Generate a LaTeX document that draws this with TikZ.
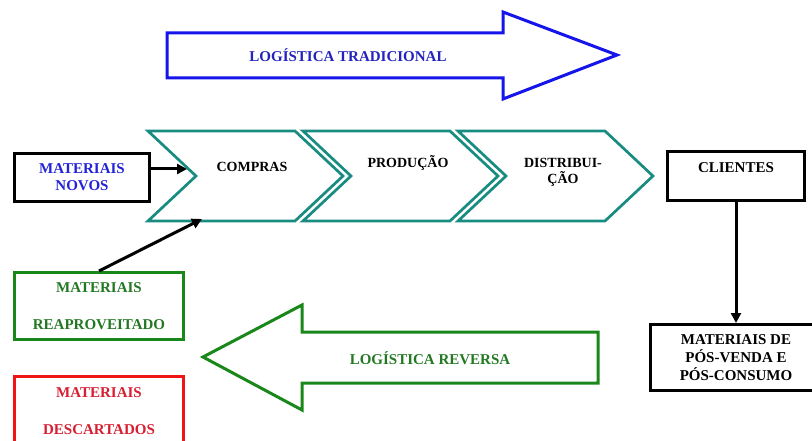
\documentclass[tikz,border=0pt]{standalone}
\usepackage{fontspec}
\setmainfont{Liberation Serif}
\usepackage{xcolor}
\usepackage{tikz}
\usetikzlibrary{arrows.meta}

\definecolor{tradblue}{RGB}{20,20,235}
\definecolor{tradtext}{RGB}{35,35,190}
\definecolor{novostext}{RGB}{35,35,215}
\definecolor{revgreen}{RGB}{25,135,25}
\definecolor{revtext}{RGB}{35,120,35}
\definecolor{chevteal}{RGB}{25,140,130}
\definecolor{descred}{RGB}{240,20,20}
\definecolor{desctext}{RGB}{215,30,50}

\begin{document}
\begin{tikzpicture}[x=1pt, y=-1pt, line join=miter,
    lbl/.style={font=\fontsize{15}{17}\selectfont\bfseries, align=center, inner sep=0pt},
    steplbl/.style={font=\fontsize{14}{16}\selectfont\bfseries, align=center, inner sep=0pt},
    box/.style={draw, line width=3pt, lbl},
    flow/.style={line width=3pt, -{Triangle[length=10pt,width=10pt]}}]

    \useasboundingbox (0,0) rectangle (812,441);
    \clip (0,0) rectangle (812,441);

    % logistica tradicional
    \draw[tradblue, line width=3pt] (167,33) -- (503,33) -- (503,12) -- (617,55)
        -- (503,99) -- (503,78) -- (167,78) -- cycle;
    \node[lbl, text=tradtext] (tradicional) at (348,55) {LOGÍSTICA TRADICIONAL};

    % cadeia
    \foreach \s in {148, 303, 458}
        \draw[chevteal, line width=2.7pt] (\s,131) -- ++(147,0) -- ++(48,45) -- ++(-48,45)
            -- ++(-147,0) -- ++(48,-45) -- cycle;
    \node[steplbl] (compras) at (252,167) {COMPRAS};
    \node[steplbl] (producao) at (408,163) {PRODUÇÃO};
    \node[steplbl] (distribuicao) at (563,172) {DISTRIBUI-\\ÇÃO};
    \coordinate (notch) at (187,169);
    \coordinate (entry) at (202,219);

    \node[box, text=novostext, minimum width=135pt, minimum height=48pt] (novos) at (82,177.5) {MATERIAIS\\NOVOS};
    \node[box, draw=revgreen, text=revtext, minimum width=169pt, minimum height=67pt,
        font=\fontsize{15}{37}\selectfont\bfseries] (reaprov) at (99,306) {MATERIAIS\\REAPROVEITADO};
    \node[box, draw=descred, text=desctext, minimum width=169pt, minimum height=70pt,
        font=\fontsize{15}{37}\selectfont\bfseries] (descartados) at (99,411.5) {MATERIAIS\\DESCARTADOS};

    \node[box, minimum width=137pt, minimum height=49pt, text height=11pt, text depth=18pt] (clientes) at (736,176) {CLIENTES};
    \node[box, minimum width=171pt, minimum height=66pt, font=\fontsize{15}{18}\selectfont\bfseries]
        (posconsumo) at (736,357.5) {MATERIAIS DE\\PÓS-VENDA E\\PÓS-CONSUMO};

    \draw[flow] (novos.east |- notch) -- (notch);
    \draw[flow] (reaprov.north) -- (entry);
    \draw[flow] (clientes) -- (posconsumo);

    % logistica reversa
    \draw[revgreen, line width=3pt] (598,332) -- (302,332) -- (302,305) -- (203,357)
        -- (302,410) -- (302,383) -- (598,383) -- cycle;
    \node[lbl, text=revtext] (reversa) at (430,358) {LOGÍSTICA REVERSA};

\end{tikzpicture}
\end{document}
